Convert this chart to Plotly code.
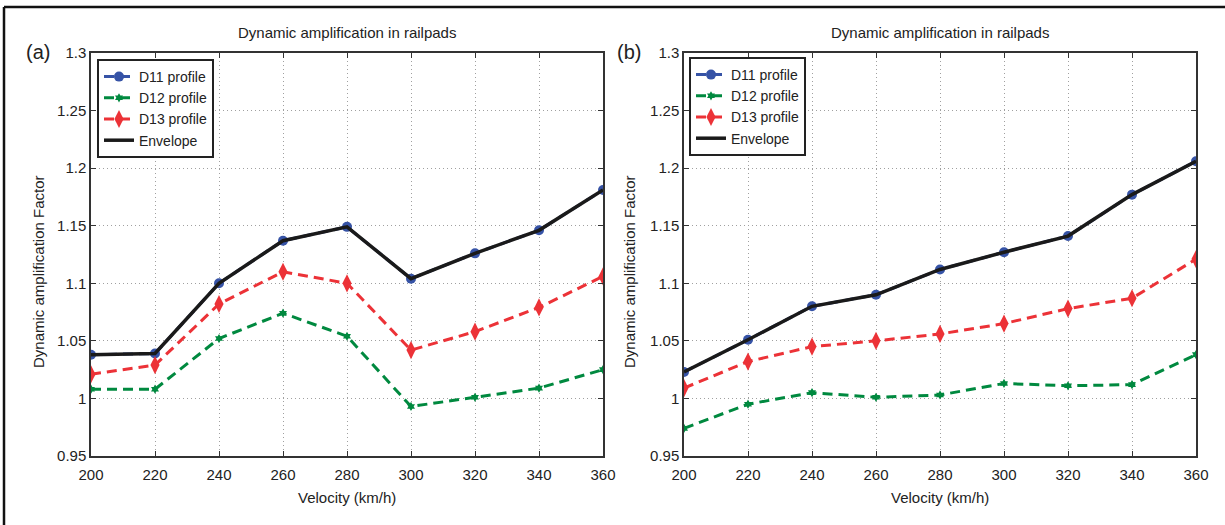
import plotly.graph_objects as go

velocity = [200, 220, 240, 260, 280, 300, 320, 340, 360]

# Panel (a)
a_d11 = [1.038, 1.039, 1.100, 1.137, 1.149, 1.104, 1.126, 1.146, 1.181]
a_d12 = [1.008, 1.008, 1.052, 1.074, 1.054, 0.993, 1.001, 1.009, 1.025]
a_d13 = [1.021, 1.029, 1.082, 1.110, 1.100, 1.042, 1.058, 1.079, 1.106]
a_env = [1.038, 1.039, 1.100, 1.137, 1.149, 1.104, 1.126, 1.146, 1.181]

# Panel (b)
b_d11 = [1.023, 1.051, 1.080, 1.090, 1.112, 1.127, 1.141, 1.177, 1.206]
b_d12 = [0.974, 0.995, 1.005, 1.001, 1.003, 1.013, 1.011, 1.012, 1.038]
b_d13 = [1.009, 1.032, 1.045, 1.050, 1.056, 1.065, 1.078, 1.087, 1.121]
b_env = [1.023, 1.051, 1.080, 1.090, 1.112, 1.127, 1.141, 1.177, 1.206]

y_tickvals = [0.95, 1.0, 1.05, 1.1, 1.15, 1.2, 1.25, 1.3]
y_ticktext = ["0.95", "1", "1.05", "1.1", "1.15", "1.2", "1.25", "1.3"]
x_tickvals = velocity

title_text = "Dynamic amplification in railpads"
xlabel = "Velocity (km/h)"
ylabel = "Dynamic amplification Factor"

BLUE = "#3653a6"
GREEN = "#00893f"
RED = "#ec3237"
BLACK = "#1a1a1a"
TXT = "#222"
FONT = "Liberation Sans, Arial, sans-serif"
W, H = 1225, 525

fig = go.Figure()


def add_panel(xa, ya, leg, d11, d12, d13, env):
    fig.add_trace(go.Scatter(
        x=velocity, y=d11, name="D11 profile", mode="lines+markers",
        line=dict(color=BLUE, width=3, dash="10px,6px"),
        marker=dict(symbol="circle", size=10, color=BLUE),
        xaxis=xa, yaxis=ya, legend=leg))
    fig.add_trace(go.Scatter(
        x=velocity, y=d12, name="D12 profile", mode="lines+markers",
        line=dict(color=GREEN, width=3, dash="10px,6px"),
        marker=dict(symbol="hexagram", size=7, color=GREEN),
        xaxis=xa, yaxis=ya, legend=leg))
    fig.add_trace(go.Scatter(
        x=velocity, y=d13, name="D13 profile", mode="lines+markers",
        line=dict(color=RED, width=3, dash="10px,6px"),
        marker=dict(symbol="diamond-tall", size=13, color=RED),
        xaxis=xa, yaxis=ya, legend=leg))
    fig.add_trace(go.Scatter(
        x=velocity, y=env, name="Envelope", mode="lines",
        line=dict(color=BLACK, width=3.5),
        xaxis=xa, yaxis=ya, legend=leg))


add_panel("x", "y", "legend", a_d11, a_d12, a_d13, a_env)
add_panel("x2", "y2", "legend2", b_d11, b_d12, b_d13, b_env)

common = dict(ticks="inside", ticklen=5, tickcolor="#333", showline=True,
              linecolor="#333", linewidth=1.5, mirror="allticks", showgrid=True,
              gridcolor="#a0a0a0", griddash="1px,3px", gridwidth=1, zeroline=False,
              automargin=False, tickfont=dict(family=FONT, size=15, color=TXT))
common_x = dict(range=[200, 360], tickvals=x_tickvals, ticklabelstandoff=4, **common)
common_y = dict(range=[0.95, 1.3], tickvals=y_tickvals, ticktext=y_ticktext, **common)

XA = (91, 603)
XB = (684, 1196)
YT, YB = 53, 456
ydom = [1 - YB / H, 1 - YT / H]

legend_style = dict(xanchor="left", yanchor="top", bordercolor="#222", borderwidth=2,
                    bgcolor="white", font=dict(family=FONT, size=14, color=TXT),
                    tracegroupgap=0, itemwidth=30)

fig.update_layout(
    width=W, height=H,
    margin=dict(l=0, r=0, t=0, b=0),
    paper_bgcolor="white", plot_bgcolor="white",
    font=dict(family=FONT, size=15, color=TXT),
    xaxis=dict(domain=[XA[0] / W, XA[1] / W], anchor="y", **common_x),
    yaxis=dict(domain=ydom, anchor="x", **common_y),
    xaxis2=dict(domain=[XB[0] / W, XB[1] / W], anchor="y2", **common_x),
    yaxis2=dict(domain=ydom, anchor="x2", **common_y),
    legend=dict(x=97 / W, y=1 - 59 / H, **legend_style),
    legend2=dict(x=689 / W, y=1 - 57 / H, **legend_style),
    showlegend=True,
)


def ann(text, px, py, size, angle=0):
    return dict(text=text, x=px / W, y=1 - py / H, xref="paper", yref="paper",
                showarrow=False, xanchor="center", yanchor="middle", textangle=angle,
                font=dict(family=FONT, size=size, color=TXT))


annotations = [
    ann(title_text, (XA[0] + XA[1]) / 2, 33, 15),
    ann(title_text, (XB[0] + XB[1]) / 2, 33, 15),
    ann("(a)", 38, 52, 20),
    ann("(b)", 629, 52, 20),
    ann(xlabel, (XA[0] + XA[1]) / 2, 497, 15),
    ann(xlabel, (XB[0] + XB[1]) / 2, 497, 15),
    ann(ylabel, 38, 272, 15, -90),
    ann(ylabel, 629, 272, 15, -90),
]
fig.update_layout(annotations=annotations)

# outer frame (top and left edges)
fig.add_shape(type="line", xref="paper", yref="paper", x0=4 / W, x1=1, y0=1 - 7 / H, y1=1 - 7 / H,
              line=dict(color="#111", width=2.5))
fig.add_shape(type="line", xref="paper", yref="paper", x0=4 / W, x1=4 / W, y0=0, y1=1 - 7 / H,
              line=dict(color="#111", width=2.5))

fig.write_html("out.html")
